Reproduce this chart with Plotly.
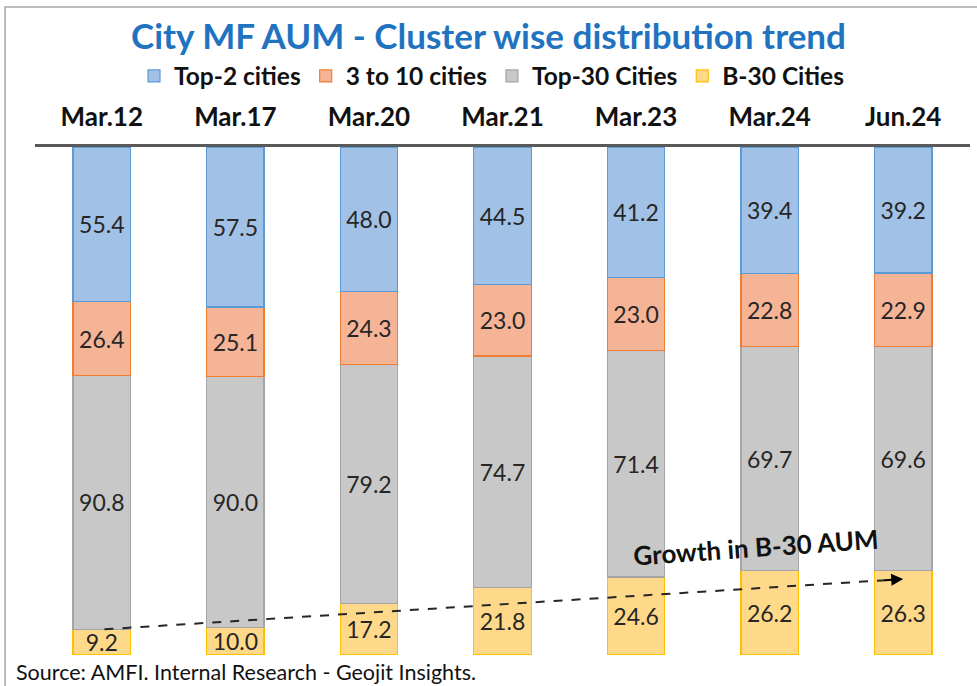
import plotly.graph_objects as go

categories = ["Mar.12", "Mar.17", "Mar.20", "Mar.21", "Mar.23", "Mar.24", "Jun.24"]
b30 = [9.2, 10.0, 17.2, 21.8, 24.6, 26.2, 26.3]
top30 = [90.8, 90.0, 79.2, 74.7, 71.4, 69.7, 69.6]
c3to10 = [26.4, 25.1, 24.3, 23.0, 23.0, 22.8, 22.9]
top2 = [55.4, 57.5, 48.0, 44.5, 41.2, 39.4, 39.2]

series = [
    ("B-30 Cities", b30, "#FFD98A", "#FFC000"),
    ("Top-30 Cities", top30, "#C8C8C8", "#A5A5A5"),
    ("3 to 10 cities", c3to10, "#F6B496", "#ED7D31"),
    ("Top-2 cities", top2, "#A2C1E7", "#5B9BD5"),
]

FONT = "Lato"
fig = go.Figure()
xs = list(range(len(categories)))
for name, vals, fill, line in series:
    fig.add_trace(go.Bar(
        x=xs, y=vals, name=f"<b>{name}</b>",
        marker=dict(color=fill, line=dict(color=line, width=1.2)),
        text=[f"{v:.1f}" for v in vals], textposition="inside",
        insidetextanchor="middle", constraintext="none",
        textfont=dict(family=FONT, size=23, color="#262626"),
        width=0.43, hoverinfo="skip",
    ))

totals = [a + b + c + d for a, b, c, d in zip(b30, top30, c3to10, top2)]
y0 = b30[0] / totals[0] * 100
y1 = b30[-1] / totals[-1] * 100 - 1.7

fig.add_shape(type="line", x0=0.02, y0=y0, x1=5.9, y1=y1 - (y1 - y0) * 0.1 / 6.0,
              xref="x", yref="y", line=dict(color="#262626", width=2, dash="dash"))
fig.add_annotation(x=6.0, y=y1, ax=5.85, ay=y1 - (y1 - y0) * 0.15 / 6.0,
                   xref="x", yref="y", axref="x", ayref="y",
                   showarrow=True, arrowhead=2, arrowsize=1.2, arrowwidth=2,
                   arrowcolor="#000000", text="")
fig.add_annotation(x=4.9, y=y1 + 6.3, xref="x", yref="y", text="<b>Growth in B-30 AUM</b>",
                   showarrow=False, textangle=-4,
                   font=dict(family=FONT, size=26, color="#111111"))

fig.add_annotation(x=0, y=0, xref="paper", yref="paper", xanchor="left", yanchor="middle",
                   xshift=-21, yshift=-17,
                   text="Source: AMFI. Internal Research - Geojit Insights.", showarrow=False,
                   font=dict(family=FONT, size=21.5, color="#111111"))

fig.add_shape(type="rect", xref="paper", yref="paper", x0=-0.032, x1=1.02, y0=-0.07, y1=1.2756,
              line=dict(color="#A6A6A6", width=1.5), layer="below")

fig.update_layout(
    barmode="stack", barnorm="percent",
    width=977, height=686,
    margin=dict(l=35, r=7, t=147, b=31),
    plot_bgcolor="white", paper_bgcolor="white",
    title=dict(text="<b>City MF AUM - Cluster wise distribution trend</b>",
               x=0.5, xanchor="center", y=1 - 37 / 686, yanchor="middle",
               font=dict(family=FONT, size=35, color="#1F73C0")),
    legend=dict(orientation="h", x=0.5 - 11 / 935, xanchor="center", y=(655 - 76) / 508,
                yanchor="middle", traceorder="reversed",
                font=dict(family=FONT, size=24.5, color="#111111"), itemwidth=30),
    xaxis=dict(side="top", tickmode="array", tickvals=xs,
               ticktext=[f"<b>{c}</b>" for c in categories],
               range=[-0.5, len(categories) - 0.5],
               showline=True, linecolor="#595959", linewidth=3, ticks="",
               ticklabelstandoff=8,
               tickfont=dict(family=FONT, size=26, color="#111111"), showgrid=False,
               fixedrange=True),
    yaxis=dict(visible=False, range=[0, 100], fixedrange=True),
    showlegend=True,
)

fig.write_html("out.html", config={"displayModeBar": False},
               post_script="document.body.style.margin='0';")
